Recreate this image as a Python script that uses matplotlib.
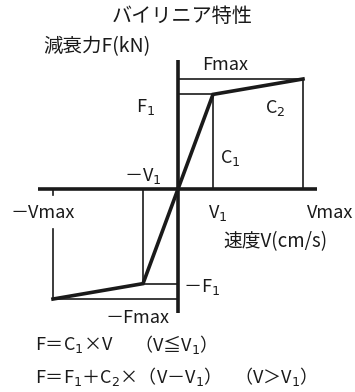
import matplotlib.pyplot as plt

plt.rcParams['font.family'] = ['Noto Sans CJK JP', 'DejaVu Sans']
plt.rcParams['mathtext.fontset'] = 'dejavusans'

# バイリニア特性の折れ点（正側、負側は対称）
v_pts = [-1.0, -0.28, 0.0, 0.28, 1.0]
f_pts = [-1.0, -0.86, 0.0, 0.86, 1.0]
V1, Vmax = 0.28, 1.0
F1, Fmax = 0.86, 1.0

W, H = 355, 392
fig = plt.figure(figsize=(W / 100, H / 100), dpi=100)
ax = fig.add_axes([0, 0, 1, 1])
ax.set_xlim(-1.424, 1.416)
ax.set_ylim(-1.845, 1.718)
ax.axis('off')

# 座標軸
ax.plot([-1.12, 1.112], [0, 0], color='#1a1a1a', lw=2.6, solid_capstyle='butt')
ax.plot([0, 0], [-1.127, 1.173], color='#1a1a1a', lw=2.6, solid_capstyle='butt')

# 補助線
thin = dict(color='#1a1a1a', lw=1.2)
ax.plot([0, Vmax, Vmax], [Fmax, Fmax, 0], **thin)
ax.plot([0, V1, V1], [F1, F1, 0], **thin)
ax.plot([0, -V1, -V1], [-F1, -F1, 0], **thin)
ax.plot([-Vmax, -Vmax], [0, -0.05], **thin)
ax.plot([-Vmax, -Vmax, 0], [-0.36, -Fmax, -Fmax], **thin)

# 減衰力特性
ax.plot(v_pts, f_pts, color='#1a1a1a', lw=2.6, solid_joinstyle='miter')


def label(x, y, s, ha='center', size=12.5):
    fig.text(x / W, 1 - y / H, s, ha=ha, va='center', fontsize=size, color='#1a1a1a')


label(182, 16, 'バイリニア特性', size=14.5)
label(43, 47, '減衰力F(kN)', ha='left', size=14)
label(225, 65, 'Fmax', size=13)
label(146, 107, r'F$_1$', size=13)
label(275, 108, r'C$_2$', size=13)
label(230, 158, r'C$_1$', size=13)
label(143, 176, r'－V$_1$', size=13)
label(43, 213, '－Vmax', size=13)
label(218, 213, r'V$_1$', size=13)
label(330, 213, 'Vmax', size=13)
label(275, 242, '速度V(cm/s)', size=13.5)
label(202, 287, r'－F$_1$', size=13)
label(138, 318, '－Fmax', size=13)
label(35, 345, r'F＝C$_1$×V', ha='left', size=13)
label(134, 345, r'（V≦V$_1$）', ha='left', size=13)
label(35, 377, r'F＝F$_1$＋C$_2$×（V－V$_1$）', ha='left', size=13)
label(234, 377, r'（V＞V$_1$）', ha='left', size=13)

fig.savefig('out.png', dpi=100)
